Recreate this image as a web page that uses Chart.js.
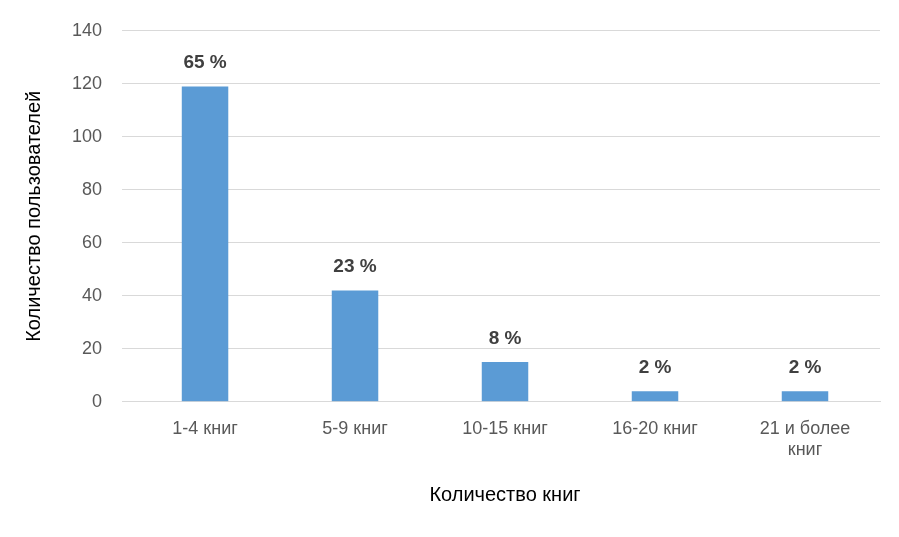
<!DOCTYPE html>
<html>
<head>
<script src="https://cdn.jsdelivr.net/npm/chart.js"></script>
<style>body{margin:0;background:#fff}</style>
</head>
<body>
<canvas id="c" width="899" height="537"></canvas>
<script>
const categories = ['1-4 книг', '5-9 книг', '10-15 книг', '16-20 книг', ['21 и более', 'книг']];
const users = [119, 42, 15, 4, 4];
const percentLabels = ['65 %', '23 %', '8 %', '2 %', '2 %'];
const yTicks = [0, 20, 40, 60, 80, 100, 120, 140];

const topLabels = {
    id: 'topLabels',
    afterDatasetsDraw(chart) {
        const ctx = chart.ctx;
        const meta = chart.getDatasetMeta(0);
        ctx.save();
        ctx.font = 'bold 19px "Liberation Sans", Arial, sans-serif';
        ctx.fillStyle = '#404040';
        ctx.textAlign = 'center';
        ctx.textBaseline = 'bottom';
        meta.data.forEach((bar, i) => {
            ctx.fillText(percentLabels[i], bar.x, bar.y - 14);
        });
        ctx.restore();
    }
};

new Chart(document.getElementById('c').getContext('2d'), {
    type: 'bar',
    data: {
        labels: categories,
        datasets: [{
            data: users,
            backgroundColor: '#5b9bd5',
            barPercentage: 0.31,
            categoryPercentage: 1
        }]
    },
    plugins: [topLabels],
    options: {
        responsive: false,
        animation: false,
        layout: { padding: { left: 18, right: 19, top: 5, bottom: 26 } },
        plugins: { legend: { display: false }, tooltip: { enabled: false } },
        scales: {
            x: {
                grid: { display: false },
                border: { color: '#d9d9d9' },
                ticks: { color: '#595959', font: { size: 18, family: '"Liberation Sans", Arial' }, maxRotation: 0, padding: 8 },
                title: { display: true, text: 'Количество книг', color: '#000', font: { size: 20, family: '"Liberation Sans", Arial' }, padding: { top: 14 } }
            },
            y: {
                min: 0, max: 140,
                afterBuildTicks(axis) { axis.ticks = yTicks.map(v => ({ value: v })); },
                grid: { color: '#d9d9d9' },
                border: { display: false },
                ticks: { color: '#595959', font: { size: 18, family: '"Liberation Sans", Arial' }, padding: 20 },
                title: { display: true, text: 'Количество пользователей', color: '#000', font: { size: 20, family: '"Liberation Sans", Arial' }, padding: { bottom: 6 } }
            }
        }
    }
});
</script>
</body>
</html>
